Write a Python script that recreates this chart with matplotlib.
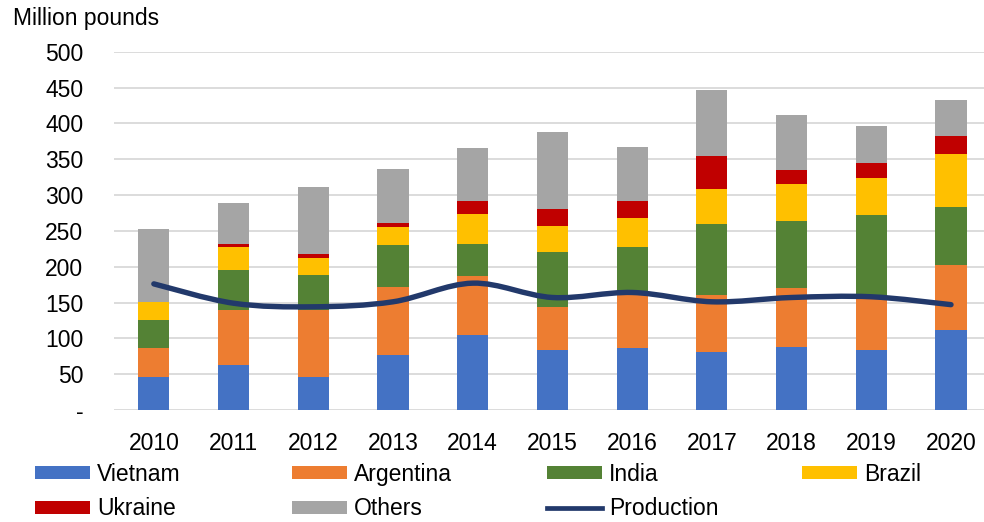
import matplotlib
matplotlib.use("Agg")
import matplotlib.pyplot as plt
from matplotlib.path import Path
from matplotlib.patches import PathPatch, Patch
from matplotlib.lines import Line2D
import numpy as np

years = ["2010", "2011", "2012", "2013", "2014", "2015", "2016", "2017", "2018", "2019", "2020"]
vietnam = [46, 63, 46, 77, 104, 84, 86, 81, 88, 84, 112]
argentina = [40, 76, 94, 95, 83, 60, 76, 79, 82, 72, 90]
india = [40, 56, 48, 58, 44, 76, 66, 99, 94, 116, 81]
brazil = [25, 33, 24, 25, 43, 37, 40, 50, 52, 52, 74]
ukraine = [0, 3, 5, 6, 18, 24, 24, 45, 19, 20, 26]
others = [101, 58, 94, 76, 73, 107, 75, 93, 76, 52, 50]
production = [176, 149, 144, 151, 177, 157, 164, 151, 157, 158, 147]
ytick_vals = [0, 50, 100, 150, 200, 250, 300, 350, 400, 450, 500]
ytick_labels = ["-", "50", "100", "150", "200", "250", "300", "350", "400", "450", "500"]

series = [("Vietnam", vietnam, "#4472C4"),
          ("Argentina", argentina, "#ED7D31"),
          ("India", india, "#548235"),
          ("Brazil", brazil, "#FFC000"),
          ("Ukraine", ukraine, "#C00000"),
          ("Others", others, "#A5A5A5")]
line_color = "#22396B"

plt.rcParams["font.family"] = ["Liberation Sans", "DejaVu Sans"]
FS = 16.5
W, H = 984, 522
fig = plt.figure(figsize=(W / 100, H / 100), dpi=100)
ax = fig.add_axes([114 / W, 1 - 410 / H, (984 - 114) / W, (410 - 51.7) / H])

x = np.arange(len(years))
bottom = np.zeros(len(years))
for name, vals, col in series:
    v = np.array(vals, dtype=float)
    ax.bar(x, v, width=0.39, bottom=bottom, color=col, zorder=2, linewidth=0)
    bottom += v

# smoothed production line (Bezier through the data points)
pts = np.column_stack([x, production]).astype(float)
verts = [tuple(pts[0])]
codes = [Path.MOVETO]
n = len(pts)
for i in range(n - 1):
    p0 = pts[max(i - 1, 0)]
    p1 = pts[i]
    p2 = pts[i + 1]
    p3 = pts[min(i + 2, n - 1)]
    c1 = p1 + (p2 - p0) / 6.0
    c2 = p2 - (p3 - p1) / 6.0
    verts += [tuple(c1), tuple(c2), tuple(p2)]
    codes += [Path.CURVE4] * 3
ax.add_patch(PathPatch(Path(verts, codes), fill=False, edgecolor=line_color,
                       lw=3.9, capstyle="round", joinstyle="round", zorder=3))

ax.set_xlim(-0.5, (984 - 154) / 79.7)
ax.set_ylim(0, 500)
ax.set_yticks(ytick_vals)
ax.set_yticklabels(ytick_labels)
ax.set_xticks(x)
ax.set_xticklabels(years)
ax.tick_params(axis="y", length=0, pad=22, labelsize=FS, colors="#000000")
ax.tick_params(axis="x", length=0, pad=16, labelsize=FS, colors="#000000")
ax.yaxis.grid(True, color="#D9D9D9", lw=1.3, zorder=0)
ax.set_axisbelow(True)
for s in ax.spines.values():
    s.set_visible(False)

fig.text(13 / W, 1 - 19 / H, "Million pounds", fontsize=FS, va="center", ha="left", color="#000000")

# legend, four columns placed individually
def patch(c):
    return Patch(facecolor=c, edgecolor="none")

cols = [
    (35, [patch("#4472C4"), patch("#C00000")], ["Vietnam", "Ukraine"]),
    (292, [patch("#ED7D31"), patch("#A5A5A5")], ["Argentina", "Others"]),
    (547, [patch("#548235"), Line2D([], [], color=line_color, lw=3.4)], ["India", "Production"]),
    (802, [patch("#FFC000")], ["Brazil"]),
]
for xpx, hs, ls in cols:
    fig.legend(handles=hs, labels=ls, loc="upper left",
               bbox_to_anchor=(xpx / W, 1 - 463 / H), frameon=False,
               fontsize=FS, handlelength=2.4, handleheight=0.48,
               handletextpad=0.3, labelspacing=0.5, borderpad=0,
               borderaxespad=0)

fig.savefig("out.png", dpi=100)
